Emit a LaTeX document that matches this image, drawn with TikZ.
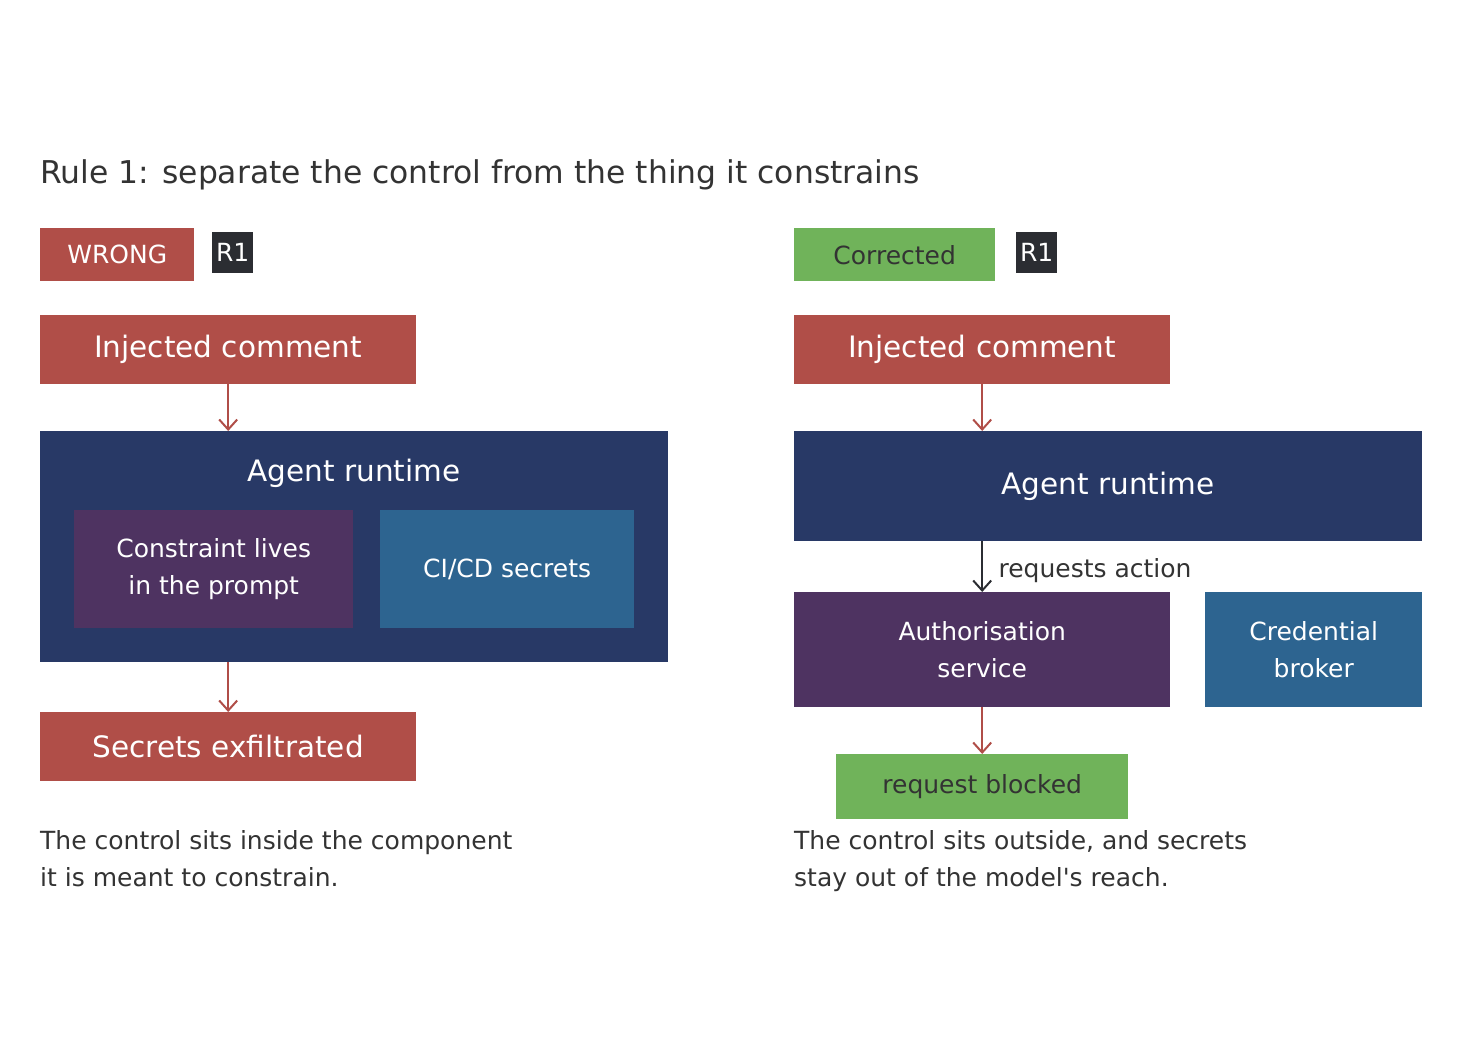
\documentclass[tikz,border=0pt]{standalone}
\usepackage{fontspec}
\setmainfont{DejaVu Sans}
\usetikzlibrary{arrows.meta}
\usetikzlibrary{positioning}
\definecolor{wrongred}{HTML}{B04E48}
\definecolor{runtimenavy}{HTML}{283966}
\definecolor{controlpurple}{HTML}{4E3361}
\definecolor{secretblue}{HTML}{2D6490}
\definecolor{okgreen}{HTML}{70B35A}
\definecolor{tagdark}{HTML}{2B2D32}
\definecolor{inkgrey}{HTML}{333333}
\tikzset{box/.style = {rectangle, inner sep=0pt, anchor=north west, align=center,
                       text=white, font=\fontsize{25}{37}\selectfont},
         bigtext/.style = {font=\fontsize{29.5}{36}\selectfont},
         caption/.style = {anchor=base west, align=left, inner sep=0pt, text=inkgrey,
                           font=\fontsize{25}{37}\selectfont},
         redflow/.style = {-{Straight Barb[length=10pt, width=18pt, line width=2pt]},
                           draw=wrongred, line width=2pt},
         darkflow/.style = {-{Straight Barb[length=10pt, width=18pt, line width=2pt]},
                            draw=tagdark, line width=2pt}}

\begin{document}
\begin{tikzpicture}[x=1pt, y=-1pt]
    \useasboundingbox[fill=white] (0,0) rectangle (1458,1052);

    \node[anchor=base west, inner sep=0pt, text=inkgrey, font=\fontsize{31.4}{36}\selectfont]
        (title) at (40,183) {Rule 1: separate the control from the thing it constrains};

    % wrong side
    \node[box, fill=wrongred, minimum width=154pt, minimum height=53pt] (wrongtag) at (40,228) {WRONG};
    \node[box, fill=tagdark, minimum width=41pt, minimum height=41pt] (wrongrule) at (212,232) {R1};
    \node[box, bigtext, fill=wrongred, minimum width=376pt, minimum height=69pt] (injL) at (40,315) {Injected comment};
    \node[box, fill=runtimenavy, minimum width=628pt, minimum height=231pt] (agentL) at (40,431) {};
    \node[box, bigtext, anchor=center] (agentLlbl) at (354,473) {Agent runtime};
    \node[box, fill=controlpurple, minimum width=279pt, minimum height=118pt] (promptL) at (74,510)
        {Constraint lives\\in the prompt};
    \node[box, fill=secretblue, minimum width=254pt, minimum height=118pt] (secretsL) at (380,510) {CI/CD secrets};
    \node[box, bigtext, fill=wrongred, minimum width=376pt, minimum height=69pt] (exfilL) at (40,712) {Secrets exfiltrated};
    \node[caption] (captionL) at (40,886) {The control sits inside the component\\it is meant to constrain.};

    \draw[redflow] (injL.south) -- (injL.south |- agentL.north);
    \draw[redflow] (exfilL.north |- agentL.south) -- (exfilL.north);

    % corrected side
    \node[box, fill=okgreen, text=inkgrey, minimum width=201pt, minimum height=53pt] (fixtag) at (794,228) {Corrected};
    \node[box, fill=tagdark, minimum width=41pt, minimum height=41pt] (fixrule) at (1016,232) {R1};
    \node[box, bigtext, fill=wrongred, minimum width=376pt, minimum height=69pt] (injR) at (794,315) {Injected comment};
    \node[box, bigtext, fill=runtimenavy, minimum width=628pt, minimum height=110pt] (agentR) at (794,431) {Agent runtime};
    \node[box, fill=controlpurple, minimum width=376pt, minimum height=115pt] (authR) at (794,592)
        {Authorisation\\service};
    \node[box, fill=secretblue, minimum width=217pt, minimum height=115pt] (brokerR) at (1205,592)
        {Credential\\broker};
    \node[box, fill=okgreen, text=inkgrey, minimum width=292pt, minimum height=65pt] (blockedR) at (836,754) {request blocked};
    \node[caption] (captionR) at (794,886) {The control sits outside, and secrets\\stay out of the model\textquotesingle s reach.};

    \draw[redflow] (injR.south) -- (injR.south |- agentR.north);
    \draw[darkflow] (authR.north |- agentR.south) -- node[right, xshift=12pt, yshift=-4pt, text=inkgrey,
        font=\fontsize{25}{30}\selectfont] {requests action} (authR.north);
    \draw[redflow] (authR.south) -- (blockedR.north);
\end{tikzpicture}
\end{document}
